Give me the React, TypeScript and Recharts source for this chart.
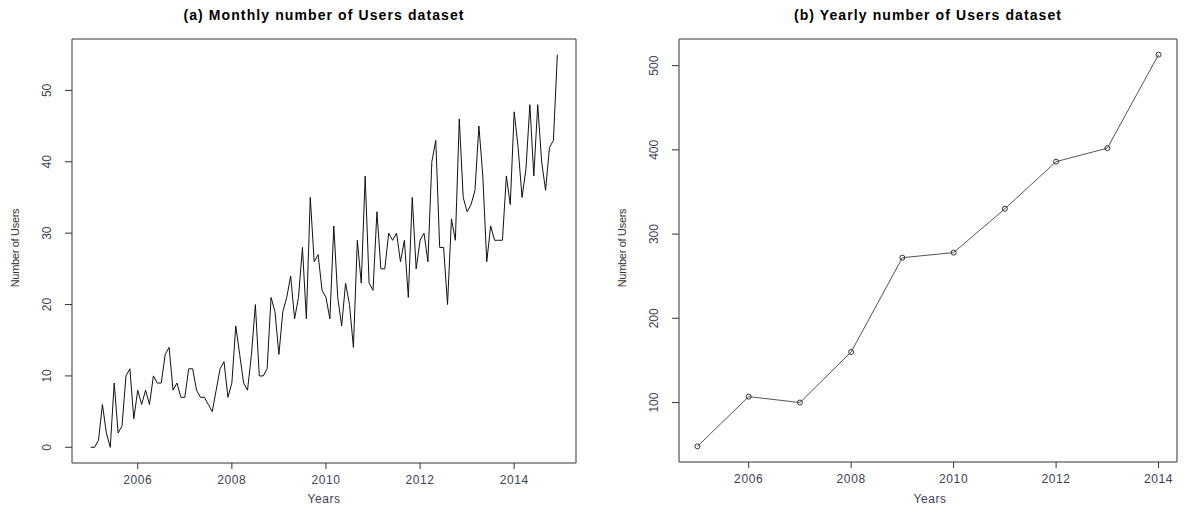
import React from "react";
import { LineChart, Line, XAxis, YAxis, ReferenceArea } from "recharts";

// monthly counts Jan 2005 .. Dec 2014
const startYear = 2005;
const monthlyUsers = [
  0, 0, 1, 6, 2, 0, 9, 2, 3, 10, 11, 4,
  8, 6, 8, 6, 10, 9, 9, 13, 14, 8, 9, 7,
  7, 11, 11, 8, 7, 7, 6, 5, 8, 11, 12, 7,
  9, 17, 13, 9, 8, 13, 20, 10, 10, 11, 21, 19,
  13, 19, 21, 24, 18, 21, 28, 18, 35, 26, 27, 22,
  21, 18, 31, 21, 17, 23, 20, 14, 29, 23, 38, 23,
  22, 33, 25, 25, 30, 29, 30, 26, 29, 21, 35, 25,
  29, 30, 26, 40, 43, 28, 28, 20, 32, 29, 46, 35,
  33, 34, 36, 45, 38, 26, 31, 29, 29, 29, 38, 34,
  47, 42, 35, 39, 48, 38, 48, 40, 36, 42, 43, 55,
];

const years = [2005, 2006, 2007, 2008, 2009, 2010, 2011, 2012, 2013, 2014];
const yearlyUsers = [48, 107, 100, 160, 272, 278, 330, 386, 402, 513];

const yearTicks = [2006, 2008, 2010, 2012, 2014];
const monthlyYTicks = [0, 10, 20, 30, 40, 50];
const yearlyYTicks = [100, 200, 300, 400, 500];

const monthlyXDomain = [2004.6033, 2015.3133];
const monthlyYDomain = [-2.2, 57.2];
const yearlyXDomain = [2004.64, 2014.36];
const yearlyYDomain = [29.4, 531.6];

const monthlyData = monthlyUsers.map((v, i) => ({ t: startYear + i / 12, users: v }));
const yearlyData = years.map((y, i) => ({ t: y, users: yearlyUsers[i] }));

const FONT = "'Liberation Sans', Arial, sans-serif";
const TICK_COLOR = "#3c4252";
const AXIS_COLOR = "#333";

const RotatedYTick = (props: any) => {
  const { x, y, payload } = props;
  const tx = x - 12;
  return (
    <text
      x={tx}
      y={y}
      transform={`rotate(-90 ${tx} ${y})`}
      textAnchor="middle"
      fontSize={12}
      fontFamily={FONT}
      fill={TICK_COLOR}
    >
      {payload.value}
    </text>
  );
};

const textStyle: React.CSSProperties = {
  position: "absolute",
  fontFamily: FONT,
  color: "#222",
  whiteSpace: "nowrap",
};

function Title({ text, cx }: { text: string; cx: number }) {
  return (
    <div
      style={{
        ...textStyle,
        left: cx,
        top: 7,
        transform: "translateX(-50%)",
        fontWeight: "bold",
        fontSize: 14,
        letterSpacing: 1.1,
        color: "#000",
      }}
    >
      {text}
    </div>
  );
}

function XLabel({ cx }: { cx: number }) {
  return (
    <div
      style={{
        ...textStyle,
        left: cx,
        top: 492,
        transform: "translateX(-50%)",
        fontSize: 12,
        letterSpacing: 0.6,
        color: TICK_COLOR,
      }}
    >
      Years
    </div>
  );
}

function YLabel({ x, cy }: { x: number; cy: number }) {
  return (
    <div
      style={{
        ...textStyle,
        left: x,
        top: cy,
        transform: "translate(-50%, -50%) rotate(-90deg)",
        fontSize: 11,
        color: "#333",
        letterSpacing: -0.3,
      }}
    >
      Number of Users
    </div>
  );
}

export default function App() {
  return (
    <div
      style={{
        position: "absolute",
        left: 0,
        top: 0,
        width: 1184,
        height: 506,
        background: "#fff",
        overflow: "hidden",
      }}
    >
      <Title text="(a) Monthly number of Users dataset" cx={324} />
      <Title text="(b) Yearly number of Users dataset" cx={928} />
      <XLabel cx={324} />
      <XLabel cx={930} />
      <YLabel x={15} cy={248} />
      <YLabel x={622} cy={248} />

      <div style={{ position: "absolute", left: 0, top: 0 }}>
        <LineChart
          width={590}
          height={506}
          data={monthlyData}
          margin={{ top: 39, right: 14, bottom: 13, left: 32 }}
        >
          <XAxis
            dataKey="t"
            type="number"
            domain={monthlyXDomain}
            ticks={yearTicks}
            height={30}
            axisLine={false}
            tickLine={{ stroke: AXIS_COLOR }}
            tickSize={6}
            tickMargin={6}
            tick={{ fill: TICK_COLOR, fontSize: 12, fontFamily: FONT, letterSpacing: 0.6 }}
            allowDataOverflow
          />
          <YAxis
            type="number"
            domain={monthlyYDomain}
            ticks={monthlyYTicks}
            width={40}
            axisLine={false}
            tickLine={{ stroke: AXIS_COLOR }}
            tickSize={7}
            tickMargin={2}
            tick={<RotatedYTick />}
            allowDataOverflow
          />
          <ReferenceArea
            x1={monthlyXDomain[0]}
            x2={monthlyXDomain[1]}
            y1={monthlyYDomain[0]}
            y2={monthlyYDomain[1]}
            fill="none"
            stroke={AXIS_COLOR}
            strokeWidth={1}
            ifOverflow="visible"
          />
          <Line
            type="linear"
            dataKey="users"
            stroke="#111"
            strokeWidth={1}
            dot={false}
            isAnimationActive={false}
          />
        </LineChart>
      </div>

      <div style={{ position: "absolute", left: 590, top: 0 }}>
        <LineChart
          width={594}
          height={506}
          data={yearlyData}
          margin={{ top: 39, right: 7, bottom: 14, left: 49 }}
        >
          <XAxis
            dataKey="t"
            type="number"
            domain={yearlyXDomain}
            ticks={yearTicks}
            height={30}
            axisLine={false}
            tickLine={{ stroke: AXIS_COLOR }}
            tickSize={6}
            tickMargin={6}
            tick={{ fill: TICK_COLOR, fontSize: 12, fontFamily: FONT, letterSpacing: 0.6 }}
            allowDataOverflow
          />
          <YAxis
            type="number"
            domain={yearlyYDomain}
            ticks={yearlyYTicks}
            width={40}
            axisLine={false}
            tickLine={{ stroke: AXIS_COLOR }}
            tickSize={7}
            tickMargin={2}
            tick={<RotatedYTick />}
            allowDataOverflow
          />
          <ReferenceArea
            x1={yearlyXDomain[0]}
            x2={yearlyXDomain[1]}
            y1={yearlyYDomain[0]}
            y2={yearlyYDomain[1]}
            fill="none"
            stroke={AXIS_COLOR}
            strokeWidth={1}
            ifOverflow="visible"
          />
          <Line
            type="linear"
            dataKey="users"
            stroke="#555"
            strokeWidth={1}
            dot={{ r: 2.5, stroke: "#333", strokeWidth: 1, fill: "none" }}
            isAnimationActive={false}
          />
        </LineChart>
      </div>
    </div>
  );
}
